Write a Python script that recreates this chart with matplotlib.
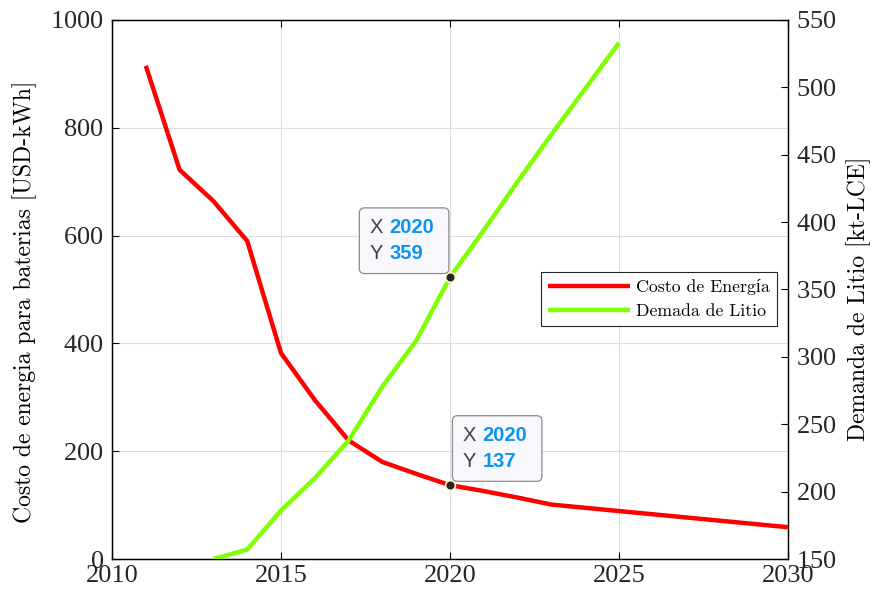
import matplotlib.pyplot as plt
from matplotlib import ticker

plt.rcParams['font.family'] = ['Liberation Serif', 'DejaVu Serif']
plt.rcParams['axes.formatter.use_mathtext'] = True

# data
years_cost = [2011, 2012, 2013, 2014, 2015, 2016, 2017, 2018, 2019, 2020,
              2021, 2022, 2023, 2024, 2025, 2026, 2027, 2028, 2029, 2030]
cost = [915, 722, 664, 590, 382, 295, 220, 180, 158, 137,
        126, 114, 101, 95, 89, 83, 77, 71, 65, 59]

years_lithium = [2013, 2014, 2015, 2016, 2017, 2018, 2019, 2020,
                 2021, 2022, 2023, 2024, 2025]
lithium = [150, 157, 186, 210, 238, 278, 312, 359,
           394, 430, 465, 499, 533]

x_ticks = [2010, 2015, 2020, 2025, 2030]
left_ticks = [0, 200, 400, 600, 800, 1000]
right_ticks = [150, 200, 250, 300, 350, 400, 450, 500, 550]

tip_year = 2020

label_font = ['cmr10', 'Liberation Serif']
tip_font = ['Liberation Sans', 'DejaVu Sans']
tip_blue = '#0a96f0'

fig = plt.figure(figsize=(8.73, 5.98), dpi=100)
ax = fig.add_axes([0.1283, 0.0652, 0.7743, 0.9014])
ax2 = ax.twinx()

l1, = ax.plot(years_cost, cost, color='#ff0000', linewidth=3.2,
              solid_capstyle='butt', label='Costo de Energía', zorder=3)
l2, = ax2.plot(years_lithium, lithium, color='#80ff00', linewidth=3.2,
               solid_capstyle='butt', label='Demada de Litio', zorder=3)

ax.set_xlim(2010, 2030)
ax.set_ylim(0, 1000)
ax2.set_ylim(150, 550)
ax.set_xticks(x_ticks)
ax.set_yticks(left_ticks)
ax2.set_yticks(right_ticks)
ax.xaxis.set_major_formatter(ticker.FormatStrFormatter('%d'))

ax.grid(True, color='#dddddd', linewidth=0.8)
ax.set_axisbelow(True)

for a in (ax, ax2):
    a.tick_params(direction='in', length=5, width=0.8, labelsize=19,
                  labelcolor='#262626', top=True, pad=6)
    for sp in a.spines.values():
        sp.set_linewidth(0.9)
ax.tick_params(axis='y', right=False)
ax2.tick_params(axis='x', top=False)
ax.tick_params(axis='x', pad=4)

ax.set_ylabel('Costo de energia para baterias [USD-kWh]', fontsize=17,
              family=label_font, labelpad=9)
ax2.set_ylabel('Demanda de Litio [kt-LCE]', fontsize=17,
               family=label_font, labelpad=7)
ax.yaxis.label.set_y(0.478)
ax2.yaxis.label.set_y(0.482)

leg = ax2.legend(handles=[l1, l2], loc='upper right',
                 bbox_to_anchor=(0.984, 0.532),
                 prop={'family': label_font, 'size': 12.8},
                 fancybox=False, edgecolor='#262626', framealpha=1,
                 handlelength=4.6, handletextpad=0.35, borderpad=0.4,
                 labelspacing=0.45, borderaxespad=0)
leg.get_frame().set_linewidth(0.8)


def data_tip(axis, x, y, dx, dy):
    # marker on the curve
    axis.plot([x], [y], 'o', color='#262626', markersize=7,
              markeredgecolor='#fff6c8', markeredgewidth=1.2, zorder=5)
    # box (text hidden, only sizing the frame)
    axis.annotate(f'X {x} \nY {y} ', xy=(x, y), xytext=(dx, dy),
                  textcoords='offset points', fontsize=14.5,
                  family=tip_font, fontweight='bold', color='none',
                  va='bottom', ha='left', linespacing=1.5,
                  bbox=dict(boxstyle='round,pad=0.5,rounding_size=0.25',
                            facecolor='#f8f8fc', edgecolor='#8c8c8c',
                            linewidth=0.9),
                  zorder=6)
    axis.annotate('X\nY', xy=(x, y), xytext=(dx, dy),
                  textcoords='offset points', fontsize=14.5,
                  family=tip_font, color='#404040',
                  va='bottom', ha='left', linespacing=1.5, zorder=7)
    axis.annotate(f'{x}\n{y}', xy=(x, y), xytext=(dx + 14.4, dy),
                  textcoords='offset points', fontsize=14.5,
                  family=tip_font, fontweight='bold', color=tip_blue,
                  va='bottom', ha='left', linespacing=1.5, zorder=7)


tip_cost = cost[years_cost.index(tip_year)]
tip_lithium = lithium[years_lithium.index(tip_year)]
data_tip(ax, tip_year, tip_cost, 9, 10)
data_tip(ax2, tip_year, tip_lithium, -58, 10)

fig.savefig('out.png', dpi=100, facecolor='white')
